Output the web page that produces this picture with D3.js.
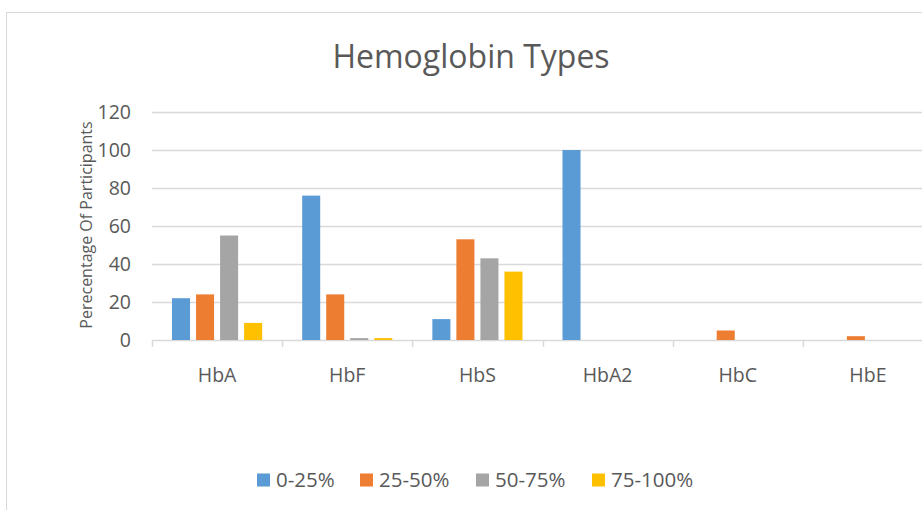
<!DOCTYPE html>
<html>
<head>
<meta charset="utf-8">
<script src="https://cdn.jsdelivr.net/npm/d3@7"></script>
<style>
  body { margin: 0; background: #fff; }
  text { font-family: 'Open Sans', 'Noto Sans', sans-serif; fill: #595959; }
</style>
</head>
<body>
<div id="chart"></div>
<script>
let categories = ['HbA', 'HbF', 'HbS', 'HbA2', 'HbC', 'HbE']
let seriesNames = ['0-25%', '25-50%', '50-75%', '75-100%']
let q1 = [22, 76, 11, 100, 0, 0]
let q2 = [24, 24, 53, 0, 5, 2]
let q3 = [55, 1, 43, 0, 0, 0]
let q4 = [9, 1, 36, 0, 0, 0]
let yTicks = [0, 20, 40, 60, 80, 100, 120]
let colors = ['#5B9BD5', '#ED7D31', '#A5A5A5', '#FFC000']

let series = [q1, q2, q3, q4]
let width = 922
let height = 510

let svg = d3
  .select('#chart')
  .append('svg')
  .attr('width', width)
  .attr('height', height)

// chart frame (runs off the right and bottom of the picture)
svg
  .append('rect')
  .attr('x', 6.5)
  .attr('y', 12.5)
  .attr('width', 940)
  .attr('height', 520)
  .attr('fill', 'none')
  .attr('stroke', '#d9d9d9')

let x0 = d3.scaleBand().domain(categories).range([152, 933])
let x1 = d3
  .scaleBand()
  .domain(d3.range(seriesNames.length))
  .range([20, x0.bandwidth() - 20])
  .paddingInner(0.25)
let y = d3.scaleLinear().domain([0, 120]).range([340, 112])

// gridlines
svg
  .selectAll('.grid')
  .data(yTicks)
  .enter()
  .append('line')
  .attr('class', 'grid')
  .attr('x1', 152)
  .attr('x2', 933)
  .attr('y1', d => Math.round(y(d)) + 0.5)
  .attr('y2', d => Math.round(y(d)) + 0.5)
  .attr('stroke', '#d9d9d9')
  .attr('stroke-width', 1.5)

// y tick labels
svg
  .selectAll('.ylab')
  .data(yTicks)
  .enter()
  .append('text')
  .attr('class', 'ylab')
  .attr('x', 131)
  .attr('y', d => y(d))
  .attr('dy', '0.35em')
  .attr('text-anchor', 'end')
  .attr('font-size', 19.5)
  .text(d => d)

// x category ticks
svg
  .selectAll('.xtick')
  .data(categories.concat(['end']))
  .enter()
  .append('line')
  .attr('class', 'xtick')
  .attr('x1', (d, i) => Math.round(152 + i * x0.bandwidth()) + 0.5)
  .attr('x2', (d, i) => Math.round(152 + i * x0.bandwidth()) + 0.5)
  .attr('y1', 340)
  .attr('y2', 347)
  .attr('stroke', '#d9d9d9')
  .attr('stroke-width', 1.5)

// bars
series.forEach((values, s) => {
  svg
    .selectAll('.bar-' + s)
    .data(values)
    .enter()
    .append('rect')
    .attr('class', 'bar-' + s)
    .attr('x', (d, i) => x0(categories[i]) + x1(s))
    .attr('y', d => y(d))
    .attr('width', x1.bandwidth())
    .attr('height', d => y(0) - y(d))
    .attr('fill', colors[s])
})

// x labels
svg
  .selectAll('.xlab')
  .data(categories)
  .enter()
  .append('text')
  .attr('class', 'xlab')
  .attr('x', d => x0(d) + x0.bandwidth() / 2)
  .attr('y', 375)
  .attr('dy', '0.35em')
  .attr('text-anchor', 'middle')
  .attr('font-size', 19.5)
  .text(d => d)

// title
svg
  .append('text')
  .attr('x', 471)
  .attr('y', 57)
  .attr('dy', '0.35em')
  .attr('text-anchor', 'middle')
  .attr('font-size', 32)
  .text('Hemoglobin Types')

// y axis title
svg
  .append('text')
  .attr('transform', 'translate(86, 225) rotate(-90)')
  .attr('dy', '0.35em')
  .attr('text-anchor', 'middle')
  .attr('font-size', 16)
  .text('Perecentage Of Participants')

// legend
let legendX = [257, 360, 476, 592]
let legend = svg
  .selectAll('.legend')
  .data(seriesNames)
  .enter()
  .append('g')
  .attr('class', 'legend')
  .attr('transform', (d, i) => `translate(${legendX[i]}, 480)`)

legend
  .append('rect')
  .attr('x', 0)
  .attr('y', -6.5)
  .attr('width', 13)
  .attr('height', 13)
  .attr('fill', (d, i) => colors[i])

legend
  .append('text')
  .attr('x', 19)
  .attr('y', 0)
  .attr('dy', '0.35em')
  .attr('font-size', 20.5)
  .text(d => d)
</script>
</body>
</html>
